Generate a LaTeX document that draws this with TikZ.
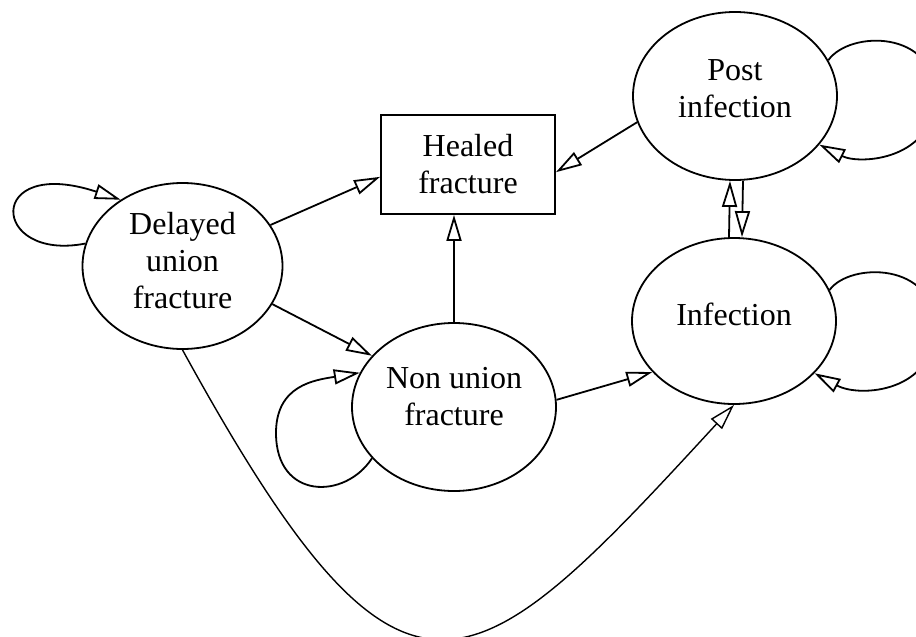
\documentclass[tikz,border=0pt]{standalone}
\usepackage{fontspec}
\setmainfont{Liberation Serif}
\usetikzlibrary{shapes.geometric,arrows.meta}
\newcommand\dpthx[1]{\rule[-#1]{0pt}{#1}}
\begin{document}
\begin{tikzpicture}[x=0.5pt,y=-0.5pt,
  lbl/.style={inner sep=0pt,align=center,font=\fontsize{16pt}{18.5pt}\selectfont},
  state/.style={lbl,ellipse,draw,line width=0.9pt},
  box/.style={lbl,rectangle,draw,line width=0.9pt,minimum width=87pt,minimum height=49.5pt},
  arr/.style={line width=0.9pt,-{Triangle[open,length=13pt,width=7.5pt]}},
]
\useasboundingbox (0,0) rectangle (916,637);
\clip (0,0) rectangle (916,637);
\node[state,minimum width=100pt,minimum height=83pt] (D) at (182.5,266) {Delayed\\union\\fracture\dpthx{6pt}};
\node[box] (H) at (468,164.5) {Healed\\fracture};
\node[state,minimum width=102pt,minimum height=84pt] (P) at (735,96) {Post\\infection\dpthx{7pt}};
\node[state,minimum width=102pt,minimum height=83pt] (I) at (734,321) {Infection\dpthx{7pt}};
\node[state,minimum width=102pt,minimum height=84pt] (N) at (454,407) {Non union\\fracture\dpthx{11pt}};

\draw[arr] (D.25.7) -- (H.188.8);
\draw[arr] (D.-23.3) -- (N.148.2);
\draw[arr] (N.north) -- (N.north |- H.south);
\draw[arr] (N.4.9) -- (I.212.8);
\draw[arr] (P.195.6) -- (H.-5.6);
\draw[arr] ([xshift=-2.5pt]I.north) -- ([xshift=-2.5pt]P.south);
\draw[arr] ([xshift=4pt]P.south) -- ([xshift=4pt]I.north);

\draw[arr] (D.167) .. controls (-10,262) and (-15,155) .. (D.133);
\draw[arr] (N.212) .. controls (345,500) and (276,500) .. (276,433) .. controls (276,385) and (315,380) .. (N.160.5);
\draw[arr] (P.21.6) .. controls (850,30) and (935,30) .. (935,95) .. controls (935,160) and (860,165) .. (P.-30);
\draw[arr] (I.18.3) .. controls (850,262) and (935,262) .. (935,327) .. controls (935,392) and (860,398) .. (I.-33);

\draw[arr,line width=0.7pt] (D.south) .. controls (405,755) and (469,693) .. (I.south);
\end{tikzpicture}
\end{document}
